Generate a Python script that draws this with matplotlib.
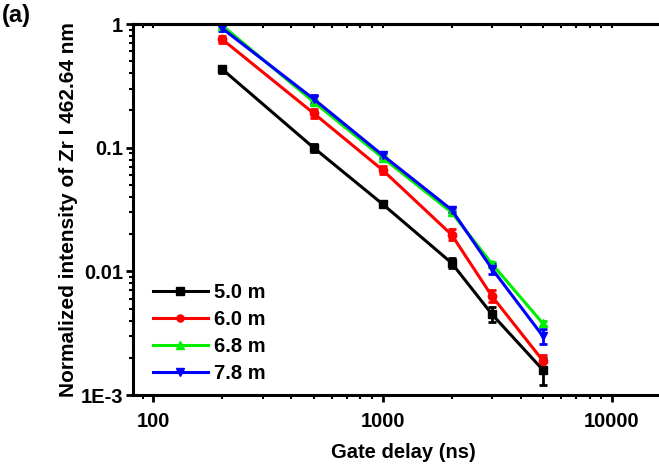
import numpy as np
import matplotlib
matplotlib.use('Agg')
import matplotlib.pyplot as plt
from matplotlib.ticker import LogLocator, FixedLocator, FixedFormatter, NullFormatter

plt.rcParams['font.family'] = ['Liberation Sans', 'DejaVu Sans']
plt.rcParams['font.weight'] = 'bold'

delay = [200, 500, 1000, 2000, 3000, 5000]
labels = ['5.0 m', '6.0 m', '6.8 m', '7.8 m']
colors = ['black', 'red', '#00ee00', 'blue']
markers = ['s', 'o', '^', 'v']

int_50 = [0.43, 0.100, 0.035, 0.0117, 0.0045, 0.0016]
int_60 = [0.75, 0.19, 0.066, 0.0198, 0.0063, 0.0019]
int_68 = [0.97, 0.235, 0.083, 0.030, 0.0115, 0.0038]
int_78 = [0.92, 0.248, 0.087, 0.0315, 0.0105, 0.0030]

err_50 = [0.03, 0.008, 0.002, 0.0010, 0.0006, 0.0004]
err_60 = [0.05, 0.015, 0.005, 0.0020, 0.0007, 0.0002]
err_68 = [0.03, 0.010, 0.003, 0.0010, 0.0004, 0.0002]
err_78 = [0.04, 0.020, 0.004, 0.0012, 0.0010, 0.0004]

series = [int_50, int_60, int_68, int_78]
errors = [err_50, err_60, err_68, err_78]

fig = plt.figure(figsize=(6.59, 4.69), dpi=100, facecolor='white')
ax = fig.add_axes([133/659, 74/469, 540/659, 371/469])

for vals, errs, c, m, lab in zip(series, errors, colors, markers, labels):
    ax.errorbar(delay, vals, yerr=errs, color=c, marker=m, markersize=6,
                lw=2.2, elinewidth=2, capsize=3, capthick=2, label=lab)

ax.set_xscale('log')
ax.set_yscale('log')
ax.set_xlim(81.5, 18500)
ax.set_ylim(1e-3, 1)

ax.yaxis.set_major_locator(FixedLocator([1e-3, 1e-2, 1e-1, 1]))
ax.yaxis.set_major_formatter(FixedFormatter(['1E-3', '0.01', '0.1', '1']))
ax.yaxis.set_minor_locator(LogLocator(base=10, subs=np.arange(2, 10)))
ax.yaxis.set_minor_formatter(NullFormatter())
ax.xaxis.set_major_locator(FixedLocator([100, 1000, 10000]))
ax.xaxis.set_major_formatter(FixedFormatter(['100', '1000', '10000']))
ax.xaxis.set_minor_locator(LogLocator(base=10, subs=np.arange(2, 10)))
ax.xaxis.set_minor_formatter(NullFormatter())

ax.tick_params(which='major', direction='out', length=5, width=2, labelsize=14.5)
ax.tick_params(axis='x', which='major', pad=7)
ax.tick_params(axis='y', which='major', pad=2)
ax.tick_params(which='minor', direction='out', length=3, width=1.5)
for sp in ax.spines.values():
    sp.set_linewidth(2.2)

# small inward ticks along the top frame
top = ax.secondary_xaxis('top')
top.xaxis.set_major_locator(FixedLocator([100, 1000, 10000]))
top.xaxis.set_minor_locator(LogLocator(base=10, subs=np.arange(2, 10)))
top.xaxis.set_major_formatter(NullFormatter())
top.xaxis.set_minor_formatter(NullFormatter())
top.tick_params(which='both', direction='in', length=3, width=1.5)
top.spines['top'].set_linewidth(2.2)

ax.set_xlabel('Gate delay (ns)', fontsize=14.5, fontweight='bold', labelpad=9)
ax.set_ylabel('Normalized intensity of Zr I 462.64 nm', fontsize=15, fontweight='bold', labelpad=2)

handles, names = ax.get_legend_handles_labels()
handles = [h[0] for h in handles]
leg = ax.legend(handles, names, loc='lower left', bbox_to_anchor=(0.015, 0.0), frameon=False,
                fontsize=14.5, handlelength=2.7, labelspacing=0.4, borderaxespad=0.2,
                handletextpad=0.3, markerscale=0.85)
for t in leg.get_texts():
    t.set_fontweight('bold')

fig.text(0.003, 0.992, '(a)', fontsize=17, fontweight='bold', va='top', ha='left')

fig.savefig('out.png', dpi=100, facecolor='white')
